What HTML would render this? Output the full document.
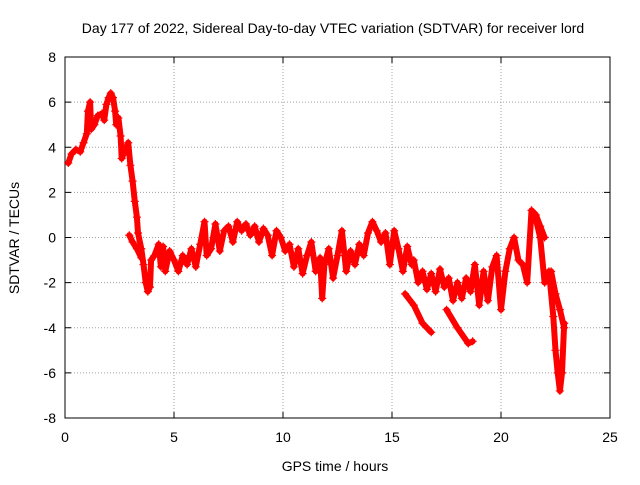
<!DOCTYPE html>
<html><head><meta charset="utf-8"><style>
body{margin:0;background:#fff}
svg text{font-family:"Liberation Sans",sans-serif;font-size:14px;fill:#000}
</style></head><body>
<svg id="chart" width="640" height="480" xmlns="http://www.w3.org/2000/svg">
<rect width="640" height="480" fill="#fff"/>
<text x="333" y="33" text-anchor="middle">Day 177 of 2022, Sidereal Day-to-day VTEC variation (SDTVAR) for receiver lord</text>
<text x="335" y="471" text-anchor="middle">GPS time / hours</text>
<text transform="translate(19,238) rotate(-90)" text-anchor="middle">SDTVAR / TECUs</text>
<g id="grid"></g><g id="axes"></g><g id="marks"></g>
</svg>
<script>
const xTicks=[0,5,10,15,20,25];
const yTicks=[-8,-6,-4,-2,0,2,4,6,8];
const mainT=[0.15,0.3,0.5,0.7,0.85,1.0,1.05,1.15,1.2,1.35,1.5,1.7,1.8,1.9,2.0,2.1,2.2,2.3,2.35,2.45,2.55,2.6,2.9,3.0,3.1,3.2,3.3,3.35,3.5,3.6,3.7,3.8,3.9,3.95,4.1,4.3,4.4,4.5,4.6,4.8,5.0,5.2,5.4,5.6,5.8,6.0,6.2,6.4,6.5,6.7,6.9,7.1,7.3,7.5,7.7,7.9,8.1,8.3,8.5,8.7,8.9,9.1,9.3,9.5,9.7,9.9,10.1,10.3,10.5,10.7,10.9,11.1,11.3,11.5,11.7,11.8,11.9,12.1,12.3,12.5,12.7,12.9,13.1,13.3,13.5,13.7,13.9,14.1,14.3,14.5,14.7,14.9,15.1,15.3,15.5,15.7,15.9,16.0,16.2,16.4,16.6,16.8,17.0,17.2,17.4,17.6,17.8,18.0,18.2,18.4,18.6,18.8,19.0,19.2,19.4,19.6,19.8,20.0,20.2,20.4,20.6,20.8,21.0,21.2,21.4,21.6,21.8,22.0,22.2,22.4,22.5,22.6,22.7,22.8,22.9];
const mainV=[3.3,3.7,3.9,3.8,4.2,4.6,5.6,6.0,4.8,5.0,5.4,5.5,5.2,5.9,6.2,6.4,6.2,5.6,5.0,5.3,4.5,3.5,4.2,3.2,2.5,1.6,0.9,0.2,-0.5,-1.2,-2.0,-2.4,-2.2,-1.0,-0.8,-0.3,-1.3,-0.4,-1.5,-0.6,-1.0,-1.5,-0.8,-1.2,-0.5,-1.3,-0.3,0.7,-0.8,-0.5,0.6,-0.6,0.3,0.5,-0.2,0.7,0.3,0.6,0.1,0.5,-0.2,0.4,0.1,-0.8,0.3,0.0,-0.6,-0.3,-1.3,-0.5,-1.6,-0.8,-0.2,-1.5,-0.9,-2.7,-1.2,-0.5,-1.8,-0.8,0.3,-1.5,-0.6,-1.2,-0.3,-0.8,0.2,0.7,0.3,-0.2,0.2,-1.2,0.3,-0.5,-1.5,-0.4,-1.2,-1.0,-2.0,-1.5,-2.3,-1.6,-2.4,-1.4,-2.2,-1.8,-2.8,-2.0,-2.7,-1.8,-2.4,-1.2,-3.0,-1.5,-2.8,-1.3,-0.8,-3.2,-1.5,-0.5,0.0,-1.0,-1.2,-2.0,1.2,0.8,0.0,-2.0,-1.5,-3.5,-5.0,-6.0,-6.8,-6.0,-3.8];
const b1T=[15.6,16.0,16.4,16.8], b1V=[-2.5,-3.0,-3.8,-4.2];
const b2T=[17.5,18.0,18.5,18.7], b2V=[-3.2,-4.0,-4.7,-4.6];
const b3T=[21.4,21.6,21.8,22.0], b3V=[1.2,1.0,0.5,0.0];
const b4T=[22.3,22.5,22.7,22.9], b4V=[-1.5,-2.5,-3.2,-4.0];
const b5T=[2.95,3.1,3.3,3.5], b5V=[0.1,-0.2,-0.5,-0.9];
const X0=65,X1=610,Y0=418,Y1=57;
const sx=t=>X0+(t-0)/25*(X1-X0);
const sy=v=>Y0-(v+8)/16*(Y0-Y1);
const NS="http://www.w3.org/2000/svg";
function mk(tag,attrs,parent){const e=document.createElementNS(NS,tag);for(const k in attrs)e.setAttribute(k,attrs[k]);parent.appendChild(e);return e;}
const grid=document.getElementById('grid'),axes=document.getElementById('axes'),marks=document.getElementById('marks');
xTicks.forEach(t=>{const x=sx(t);
 if(t>0&&t<25){const g=mk('line',{x1:x,x2:x,y1:Y1,y2:Y0,stroke:'#a0a0a0','stroke-dasharray':'1,2'},grid);}
 mk('line',{x1:x,x2:x,y1:Y0,y2:Y0-6,stroke:'#000'},axes);mk('line',{x1:x,x2:x,y1:Y1,y2:Y1+6,stroke:'#000'},axes);
 const l=mk('text',{x:x,y:Y0+24,'text-anchor':'middle'},axes);l.textContent=t;
 });
yTicks.forEach(v=>{const y=sy(v);
 if(v>-8&&v<8){const g=mk('line',{x1:X0,x2:X1,y1:y,y2:y,stroke:'#a0a0a0','stroke-dasharray':'1,2'},grid);}
 mk('line',{x1:X0,x2:X0+6,y1:y,y2:y,stroke:'#000'},axes);mk('line',{x1:X1,x2:X1-6,y1:y,y2:y,stroke:'#000'},axes);
 const l=mk('text',{x:X0-9,y:y+5,'text-anchor':'end'},axes);l.textContent=v;
 });
const frame=mk('rect',{x:X0,y:Y1,width:X1-X0,height:Y0-Y1,fill:'none',stroke:'#000'},axes);

function series(T,V,name){
 const g=mk('g',{},marks);
 let d='';for(let i=0;i<T.length;i++){d+=(i&&T[i]-T[i-1]<0.6?'L':'M')+sx(T[i]).toFixed(1)+' '+sy(V[i]).toFixed(1);}
 mk('path',{d:d,stroke:'#f00','stroke-width':6,fill:'none','stroke-linejoin':'round','stroke-linecap':'round'},g);
 for(let i=0;i<T.length;i++){const x=sx(T[i]),y=sy(V[i]);
  const p=mk('path',{d:`M${x-4} ${y}H${x+4}M${x} ${y-4}V${y+4}`,stroke:'#f00','stroke-width':1.2},g);
  }
}
series(mainT,mainV,'sdtvar-main');series(b1T,b1V,'sdtvar-branch-1');series(b2T,b2V,'sdtvar-branch-2');
series(b3T,b3V,'sdtvar-branch-3');series(b4T,b4V,'sdtvar-branch-4');series(b5T,b5V,'sdtvar-branch-5');
</script>
</body></html>
